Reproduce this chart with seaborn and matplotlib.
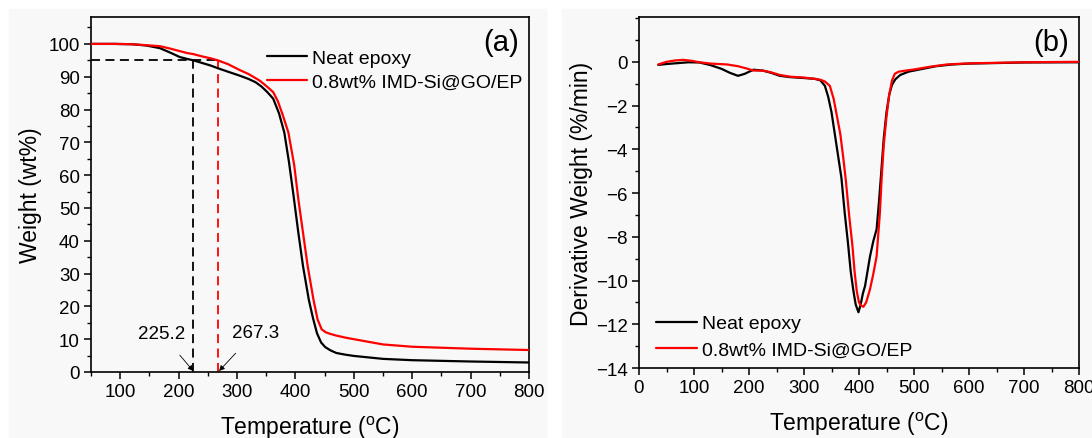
import numpy as np
import pandas as pd
import matplotlib
matplotlib.use("Agg")
import matplotlib.pyplot as plt
from matplotlib.patches import Rectangle
from matplotlib.ticker import MultipleLocator
import seaborn as sns

# ---------------- data ----------------
series_names = ["Neat epoxy", "0.8wt% IMD-Si@GO/EP"]
series_colors = ["#000000", "#ff0000"]

tga_T_neat = [50, 90, 120, 145, 168, 185, 202, 215, 225, 240, 255, 267, 285, 305, 320, 332, 342, 352,
              362, 372, 381, 389, 397, 405, 413, 423, 430, 437, 444, 451, 460, 470, 485, 500, 550, 600, 700, 800]
tga_W_neat = [100, 100, 99.9, 99.5, 98.7, 97.4, 96.0, 95.4, 95.0, 94.2, 93.4, 92.6, 91.5, 90.3, 89.3, 88.3,
              87.0, 85.3, 83.3, 78.8, 73.0, 64.0, 53.5, 42.5, 32.3, 22.0, 16.5, 11.8, 9.0, 7.6, 6.6, 5.8,
              5.3, 4.9, 4.0, 3.6, 3.2, 2.9]

tga_T_comp = [50, 90, 120, 145, 168, 185, 202, 215, 225, 240, 255, 267, 285, 305, 320, 339, 350, 362, 370,
              378, 388, 398, 405, 413, 421, 431, 438, 445, 452, 460, 470, 485, 500, 550, 600, 700, 800]
tga_W_comp = [100, 100, 99.9, 99.6, 99.3, 98.6, 97.8, 97.2, 96.9, 96.2, 95.6, 95.0, 93.8, 92.0, 90.8, 88.8,
              87.2, 85.3, 82.5, 78.5, 73.0, 63.0, 52.7, 42.5, 32.3, 22.0, 16.0, 13.0, 12.1, 11.6, 11.1,
              10.5, 10.0, 8.4, 7.7, 7.1, 6.7]

dtg_T_neat = [35, 50, 70, 90, 110, 130, 150, 165, 180, 192, 208, 225, 240, 256, 275, 300, 320, 330, 338,
              344, 350, 356, 362, 368, 374, 380, 385, 390, 394, 399, 403, 407, 411, 416, 420, 426, 432,
              436, 440, 445, 450, 455, 460, 466, 475, 490, 510, 540, 570, 600, 700, 800]
dtg_D_neat = [-0.14, -0.1, -0.06, -0.02, -0.03, -0.15, -0.32, -0.5, -0.64, -0.55, -0.36, -0.4, -0.5,
              -0.64, -0.7, -0.74, -0.78, -0.85, -1.1, -1.6, -2.3, -3.3, -4.3, -5.3, -6.9, -8.3, -9.6,
              -10.5, -11.1, -11.45, -11.1, -10.6, -10.25, -9.5, -8.9, -8.2, -7.66, -6.5, -5.2, -3.5,
              -2.3, -1.5, -1.05, -0.8, -0.6, -0.45, -0.35, -0.2, -0.12, -0.08, -0.03, -0.02]

dtg_T_comp = [35, 50, 65, 80, 95, 110, 130, 160, 180, 195, 208, 225, 240, 256, 275, 300, 320, 330, 338,
              347, 354, 360, 366, 371, 376, 382, 388, 392, 396, 400, 404, 408, 413, 420, 426, 432, 438,
              441, 445, 450, 455, 460, 465, 472, 485, 500, 530, 560, 600, 700, 800]
dtg_D_comp = [-0.12, 0.0, 0.06, 0.09, 0.05, -0.02, -0.08, -0.12, -0.2, -0.3, -0.4, -0.4, -0.48, -0.6,
              -0.68, -0.72, -0.78, -0.82, -0.9, -1.1, -1.7, -2.5, -3.3, -4.3, -5.4, -7.0, -8.4, -9.6,
              -10.5, -11.0, -11.15, -11.2, -11.0, -10.4, -9.7, -8.9, -6.9, -5.4, -3.8, -2.5, -1.5,
              -0.85, -0.55, -0.45, -0.4, -0.35, -0.22, -0.12, -0.07, -0.02, 0.0]

t5_values = [225.2, 267.3]
t5_labels = ["225.2", "267.3"]
w5_level = 95

# ---------------- style ----------------
sns.set_style("ticks")
plt.rcParams["font.family"] = ["Liberation Sans", "DejaVu Sans"]
plt.rcParams["mathtext.fontset"] = "custom"
plt.rcParams["mathtext.rm"] = "Liberation Sans"
plt.rcParams["axes.linewidth"] = 1.2
plt.rcParams["axes.edgecolor"] = "black"
plt.rcParams["text.color"] = "black"
plt.rcParams["axes.labelcolor"] = "black"
plt.rcParams["xtick.color"] = "black"
plt.rcParams["ytick.color"] = "black"

panel_bg = "#f8f8f8"

fig = plt.figure(figsize=(10.92, 4.39), dpi=100, facecolor="white")
fig.patches.append(Rectangle((9 / 1092, 0), (546 - 9) / 1092, (439 - 10) / 439,
                             transform=fig.transFigure, color=panel_bg, zorder=-10))
fig.patches.append(Rectangle((562 / 1092, 0), (1092 - 562) / 1092, (439 - 10) / 439,
                             transform=fig.transFigure, color=panel_bg, zorder=-10))

ax1 = fig.add_axes([91 / 1092, (439 - 373) / 439, 438 / 1092, 355 / 439])
ax2 = fig.add_axes([639 / 1092, (439 - 369) / 439, 440 / 1092, 351 / 439])

tga = pd.concat([
    pd.DataFrame({"T": tga_T_neat, "W": tga_W_neat, "s": series_names[0]}),
    pd.DataFrame({"T": tga_T_comp, "W": tga_W_comp, "s": series_names[1]}),
])
dtg = pd.concat([
    pd.DataFrame({"T": dtg_T_neat, "D": dtg_D_neat, "s": series_names[0]}),
    pd.DataFrame({"T": dtg_T_comp, "D": dtg_D_comp, "s": series_names[1]}),
])
pal = dict(zip(series_names, series_colors))

sns.lineplot(data=tga, x="T", y="W", hue="s", palette=pal, estimator=None, sort=False,
             linewidth=1.6, ax=ax1, zorder=3)
sns.lineplot(data=dtg, x="T", y="D", hue="s", palette=pal, estimator=None, sort=False,
             linewidth=1.6, ax=ax2, zorder=3)

for ax in (ax1, ax2):
    ax.set_facecolor(panel_bg)
    for sp in ax.spines.values():
        sp.set_visible(True)
        sp.set_linewidth(1.2)
    ax.tick_params(axis="both", which="major", direction="out", length=5, width=1.1,
                   labelsize=13.5, top=False, right=False, pad=3)
    ax.tick_params(axis="both", which="minor", direction="out", length=3, width=1.0,
                   top=False, right=False)
    ax.set_xlabel("Temperature ($^{\\rm o}$C)", fontsize=16.5, labelpad=10)

# panel (a)
ax1.set_xlim(50, 800)
ax1.set_ylim(0, 108.2)
ax1.xaxis.set_major_locator(MultipleLocator(100))
ax1.xaxis.set_minor_locator(MultipleLocator(50))
ax1.yaxis.set_minor_locator(MultipleLocator(5))
ax1.set_yticks(np.arange(0, 101, 10))
ax1.set_ylabel("Weight (wt%)", fontsize=16.5, labelpad=5)

# 5% weight loss guides
ax1.plot([50, t5_values[1]], [w5_level, w5_level], color="black", ls=(0, (5, 3)), lw=1.3, zorder=2)
ax1.plot([t5_values[0], t5_values[0]], [0, w5_level], color="black", ls=(0, (5, 3)), lw=1.3, zorder=2)
ax1.plot([t5_values[1], t5_values[1]], [0, w5_level], color="red", ls=(0, (5, 3)), lw=1.3, zorder=2)

ax1.annotate(t5_labels[0], xy=(t5_values[0], 0.3), xytext=(171, 11.6), fontsize=13.5,
             ha="center", va="center",
             arrowprops=dict(arrowstyle="-|>", lw=0.6, color="black", mutation_scale=8,
                             shrinkA=9, shrinkB=0))
ax1.annotate(t5_labels[1], xy=(t5_values[1] + 2, 0.3), xytext=(331, 12.1), fontsize=13.5,
             ha="center", va="center",
             arrowprops=dict(arrowstyle="-|>", lw=0.6, color="black", mutation_scale=8,
                             shrinkA=9, shrinkB=0))

ax1.legend(loc="upper left", bbox_to_anchor=(0.383, 0.93), frameon=False, fontsize=14,
           handlelength=2.1, handletextpad=0.25, labelspacing=0.33, borderaxespad=0)
ax1.text(0.978, 0.93, "(a)", transform=ax1.transAxes, fontsize=21, ha="right", va="center")

# panel (b)
ax2.set_xlim(0, 800)
ax2.set_ylim(-14, 2.05)
ax2.xaxis.set_major_locator(MultipleLocator(100))
ax2.xaxis.set_minor_locator(MultipleLocator(50))
ax2.set_yticks(np.arange(-14, 1, 2))
ax2.yaxis.set_minor_locator(MultipleLocator(1))
ax2.set_ylabel("Derivative Weight (%/min)", fontsize=16.5, labelpad=2)
ax2.legend(loc="lower left", bbox_to_anchor=(0.022, 0.004), frameon=False, fontsize=14,
           handlelength=2.1, handletextpad=0.25, labelspacing=0.45, borderaxespad=0)
ax2.text(0.978, 0.93, "(b)", transform=ax2.transAxes, fontsize=21, ha="right", va="center")

fig.savefig("out.png", dpi=100, facecolor="white")
